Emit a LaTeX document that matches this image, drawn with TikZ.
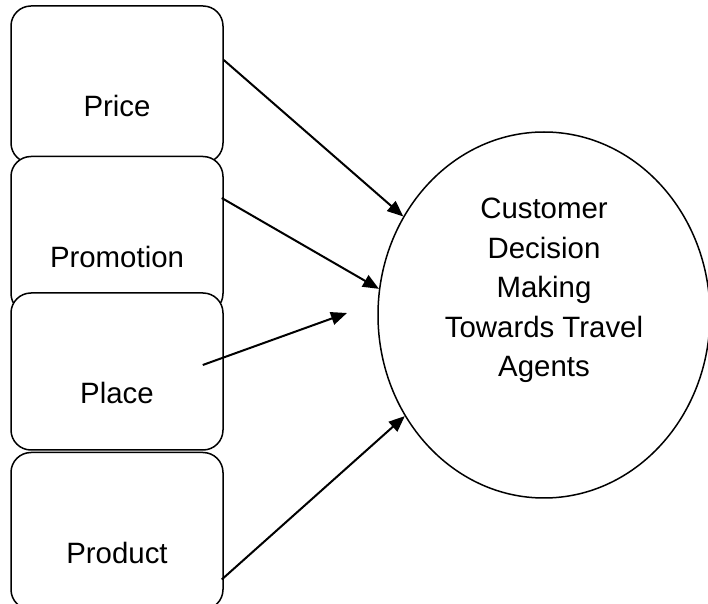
\documentclass[tikz,border=0pt]{standalone}
\usepackage{fontspec}
\setmainfont{Liberation Sans}
\usepackage{tikz}
\usetikzlibrary{shapes.geometric, arrows.meta, positioning}
\tikzstyle{factor} = [rectangle, rounded corners=10pt, minimum width=106pt, minimum height=78.5pt,
    text height=32.5pt, text depth=0pt, inner sep=0pt, text centered, draw=black, line width=0.75pt,
    fill=white, font=\fontsize{14.7}{19.75}\selectfont]
\tikzstyle{outcome} = [ellipse, minimum width=166pt, minimum height=183pt, align=center, inner sep=0pt,
    text height=62pt, text depth=0pt, draw=black, line width=0.75pt, font=\fontsize{14.7}{19.75}\selectfont]
\tikzstyle{arrow} = [line width=1pt,-{Triangle[length=8pt,width=6.5pt]}]

\begin{document}
\begin{tikzpicture}
            \useasboundingbox (0,0) rectangle (354pt,-302pt);
            \node (price) [factor] at (58.5pt,-42.25pt) {Price};
            \node (promo) [factor, below=-4pt of price] {Promotion};
            \node (place) [factor, below=-11pt of promo] {Place};
            \node (product) [factor, below=0.5pt of place] {Product};
            \node (decision) [outcome] at (272pt,-157.5pt) {Customer\\Decision\\Making\\Towards Travel\\Agents};
            \coordinate (gap) at (173.5pt,-156.5pt);

            \draw [arrow] ([yshift=12.25pt]price.east) -- (decision.145);
            \draw [arrow] ([xshift=-1pt,yshift=18.5pt]promo.east) -- (decision.171);
            \draw [arrow] ([xshift=-10.5pt,yshift=3.25pt]place.east) -- (gap);
            \draw [arrow] ([xshift=-1pt,yshift=-24.25pt]product.east) -- (decision.216);
        \end{tikzpicture}
\end{document}
